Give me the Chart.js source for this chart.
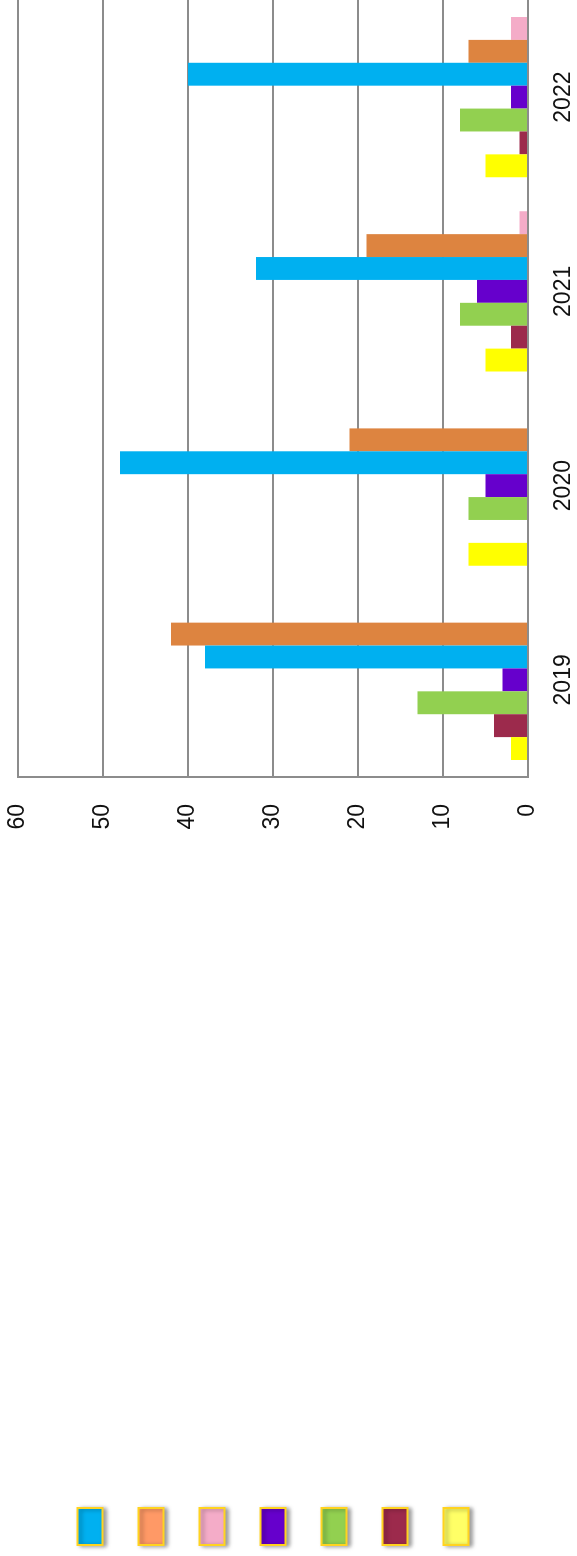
<!DOCTYPE html>
<html>
<head>
<meta charset="utf-8">
<script src="https://cdn.jsdelivr.net/npm/chart.js@4/dist/chart.umd.min.js"></script>
<style>
  html, body { margin: 0; padding: 0; background: #fff; width: 577px; height: 1556px; overflow: hidden; }
  /* the chart is laid out landscape and then turned a quarter turn to the left */
  #wrap { position: absolute; left: 0; top: 1556px; width: 1556px; height: 577px;
          transform-origin: 0 0; transform: rotate(-90deg); }
</style>
</head>
<body>
<div id="wrap"><canvas id="chart"></canvas></div>
<script>
var categories = ['2019', '2020', '2021', '2022'];

var yellowVals = [2, 7, 5, 5];
var maroonVals = [4, 0, 2, 1];
var greenVals  = [13, 7, 8, 8];
var purpleVals = [3, 5, 6, 2];
var blueVals   = [38, 48, 32, 40];
var orangeVals = [42, 21, 19, 7];
var pinkVals   = [0, 0, 1, 2];

var yMin = 0, yMax = 60, yStep = 10;

var barColors    = ['#FFFF00', '#9C2A4C', '#92D050', '#6600CC', '#00B0F0', '#DD8440', '#F4ACC8'];
var legendColors = ['#FFFF66', '#9C2A4C', '#92D050', '#6600CC', '#00B0F0', '#FF9966', '#F4ACC8'];
var legendOrder  = [4, 5, 6, 3, 2, 1, 0];   // dataset indexes, top to bottom

var series = [yellowVals, maroonVals, greenVals, purpleVals, blueVals, orangeVals, pinkVals];
var names  = ['Yellow', 'Maroon', 'Green', 'Purple', 'Blue', 'Orange', 'Pink'];

var datasets = series.map(function (vals, i) {
  return {
    label: names[i],
    data: vals,
    backgroundColor: barColors[i],
    borderWidth: 0,
    categoryPercentage: 0.825,
    barPercentage: 1
  };
});

// soft shadow behind the legend swatches
var swatchShadow = {
  id: 'swatchShadow',
  afterLayout: function (chart) {
    var lg = chart.legend;
    if (!lg || lg._shadowed) return;
    var draw = lg.draw.bind(lg);
    lg.draw = function () {
      var c = chart.ctx;
      c.save();
      c.shadowColor = 'rgba(0,0,0,0.35)';
      c.shadowBlur = 4;
      c.shadowOffsetX = -1;
      c.shadowOffsetY = 3;
      draw();
      c.restore();
    };
    lg._shadowed = true;
  }
};

var gridGray = '#8C8C8C';
var tickFont = { family: '"Liberation Sans", Arial, sans-serif', size: 23 };

var ctx = document.getElementById('chart').getContext('2d');
var chart = new Chart(ctx, {
  type: 'bar',
  data: { labels: categories, datasets: datasets },
  plugins: [swatchShadow],
  options: {
    responsive: true,
    maintainAspectRatio: false,
    animation: false,
    layout: { padding: { top: 18, right: 0, bottom: 0, left: 0 } },
    plugins: {
      tooltip: { enabled: false },
      legend: {
        position: 'left',
        align: 'center',
        fullSize: false,
        labels: {
          boxWidth: 37,
          boxHeight: 25,
          padding: 11,
          font: { size: 50 },
          generateLabels: function (chart) {
            return chart.data.datasets.map(function (ds, i) {
              return {
                text: '',
                fillStyle: legendColors[i],
                strokeStyle: '#FFD320',
                lineWidth: 2,
                hidden: false,
                datasetIndex: i
              };
            });
          },
          sort: function (a, b) {
            return legendOrder.indexOf(a.datasetIndex) - legendOrder.indexOf(b.datasetIndex);
          }
        }
      }
    },
    scales: {
      x: {
        grid: { display: false, drawTicks: false },
        border: { display: true, color: gridGray, width: 2 },
        ticks: { color: '#111', font: tickFont, padding: 22, maxRotation: 0 },
        afterFit: function (scale) { scale.height = 49; }
      },
      y: {
        min: yMin,
        max: yMax,
        grid: { color: gridGray, lineWidth: 2, drawTicks: false },
        border: { display: true, color: gridGray, width: 2 },
        ticks: { stepSize: yStep, color: '#111', font: tickFont, padding: 27 },
        afterFit: function (scale) {
          scale.width = 696;
          scale.paddingTop = 0;
          scale.paddingBottom = 0;
        }
      }
    }
  }
});
</script>
</body>
</html>
